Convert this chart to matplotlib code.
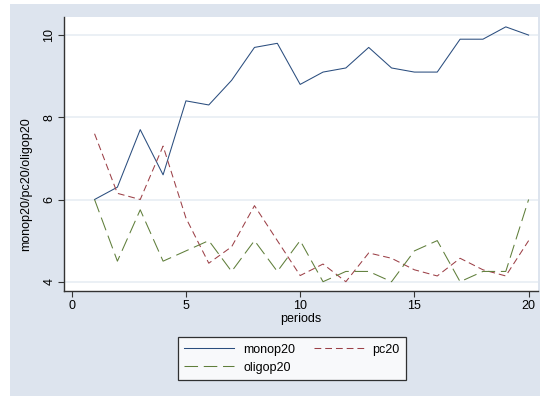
import matplotlib
matplotlib.use("Agg")
import matplotlib.pyplot as plt
from matplotlib.patches import Rectangle

periods = list(range(1, 21))
monop20 = [6.0, 6.3, 7.7, 6.6, 8.4, 8.3, 8.9, 9.7, 9.8, 8.8,
           9.1, 9.2, 9.7, 9.2, 9.1, 9.1, 9.9, 9.9, 10.2, 10.0]
pc20 = [7.6, 6.15, 6.0, 7.3, 5.55, 4.45, 4.85, 5.85, 5.0, 4.15,
        4.43, 4.0, 4.7, 4.57, 4.29, 4.14, 4.57, 4.29, 4.14, 5.0]
oligop20 = [6.0, 4.5, 5.75, 4.5, 4.75, 5.0, 4.25, 5.0, 4.25, 5.0,
            4.0, 4.25, 4.25, 4.0, 4.75, 5.0, 4.0, 4.25, 4.25, 6.0]
xticks = [0, 5, 10, 15, 20]
yticks = [4, 6, 8, 10]

plt.rcParams['font.family'] = ['Liberation Sans', 'DejaVu Sans']

W, H = 540, 396
fig = plt.figure(figsize=(W / 100, H / 100), dpi=100, facecolor='white')
bg = '#dde4ee'
fig.patches.append(Rectangle((10 / W, 0), 530 / W, 392 / H, transform=fig.transFigure,
                             facecolor=bg, edgecolor='none', zorder=-10))

ax = fig.add_axes([64 / W, 1 - 291 / H, (538 - 64) / W, (291 - 17) / H])
ax.set_facecolor('white')

navy = '#2a4d7e'
maroon = '#9c4047'
green = '#5f7e3a'
lw = 0.75
ax.plot(periods, monop20, color=navy, lw=lw, label='monop20')
ax.plot(periods, pc20, color=maroon, lw=lw, dashes=(6.5, 3.8), label='pc20')
ax.plot(periods, oligop20, color=green, lw=lw, dashes=(13, 5.5), label='oligop20')

ax.set_xlim(-0.337, 20.41)
ax.set_ylim(3.774, 10.44)
ax.set_xticks(xticks)
ax.set_yticks(yticks)
ax.set_yticklabels([str(v) for v in yticks], rotation=90, va='center')
ax.grid(axis='y', color='#e8edf3', lw=1.2)
ax.grid(axis='x', visible=False)
ax.set_axisbelow(True)
for s in ['top', 'right']:
    ax.spines[s].set_visible(False)
for s in ['left', 'bottom']:
    ax.spines[s].set_color('#333333')
    ax.spines[s].set_linewidth(1.0)
ax.tick_params(axis='both', length=4.3, width=0.8, color='#333333', labelsize=9, pad=2)
ax.set_xlabel('periods', fontsize=9, labelpad=1)
ax.set_ylabel('monop20/pc20/oligop20', fontsize=9, labelpad=5)
ax.yaxis.set_label_coords(-0.067, (291 - 184) / 274)

handles, labels = ax.get_legend_handles_labels()
order = [0, 2, 1]
leg = fig.legend([handles[i] for i in order], [labels[i] for i in order],
                 loc='upper center', bbox_to_anchor=(292 / W, 1 - 331 / H), ncol=2,
                 fontsize=9, frameon=True, fancybox=False, edgecolor='black',
                 handlelength=4.0, columnspacing=1.5, borderpad=0.5, labelspacing=0.5,
                 handletextpad=0.7)
leg.get_frame().set_linewidth(0.9)

fig.savefig('out.png', dpi=100, facecolor='white')
